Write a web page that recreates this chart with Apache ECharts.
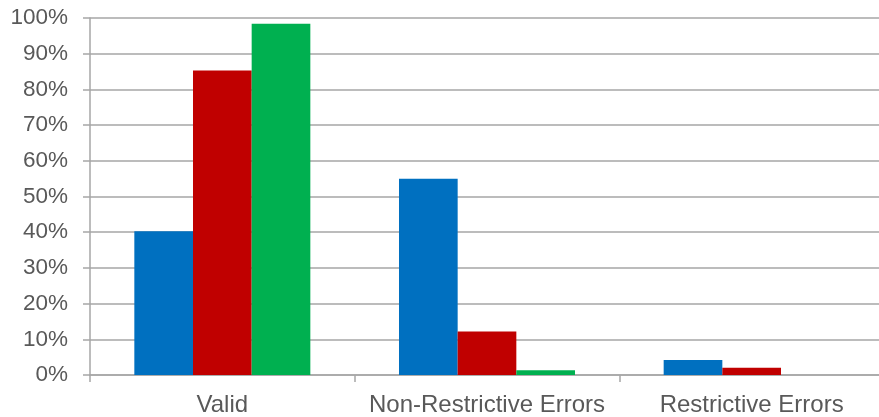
<!DOCTYPE html>
<html><head><meta charset="utf-8">
<script src="https://cdn.jsdelivr.net/npm/echarts@6/dist/echarts.min.js"></script>
<style>html,body{margin:0;padding:0;background:#fff}#c{width:879px;height:417px}</style>
</head><body><div id="c"></div>
<script>
const categories = ['Valid', 'Non-Restrictive Errors', 'Restrictive Errors'];
const seriesBlue = [40.3, 55.0, 4.2];
const seriesRed = [85.3, 12.2, 2.0];
const seriesGreen = [98.4, 1.3, 0];
const yTicks = [0, 10, 20, 30, 40, 50, 60, 70, 80, 90, 100];

const chart = echarts.init(document.getElementById('c'), null, {renderer: 'canvas'});
const txt = '#595959';
const lineCol = '#A6A6A6';
function bar(name, data, color) {
  return {name, type: 'bar', data, barGap: '0%', barCategoryGap: '33.5%',
    itemStyle: {color}, animation: false};
}
chart.setOption({
  animation: false,
  grid: {left: 90, width: 794, top: 18, height: 357, containLabel: false, outerBoundsMode: 'none'},
  xAxis: {
    type: 'category', data: categories,
    axisLine: {lineStyle: {color: lineCol, width: 1.5}},
    axisTick: {show: true, length: 7, inside: false, alignWithLabel: false, lineStyle: {color: lineCol, width: 1.5}},
    axisLabel: {color: txt, fontFamily: 'Liberation Sans', fontSize: 24, margin: 18,
      interval: 0, hideOverlap: false}
  },
  yAxis: {
    type: 'value', min: yTicks[0], max: yTicks[yTicks.length - 1], interval: 10,
    axisLine: {show: true, lineStyle: {color: lineCol, width: 1.5}},
    axisTick: {show: true, length: 7, lineStyle: {color: lineCol, width: 1.5}},
    splitLine: {show: true, lineStyle: {color: lineCol, width: 1.5}},
    axisLabel: {color: txt, fontFamily: 'Liberation Sans', fontSize: 22.5, margin: 22,
      formatter: v => v + '%'}
  },
  series: [bar('A', seriesBlue, '#0070C0'), bar('B', seriesRed, '#C00000'), bar('C', seriesGreen, '#00B050')]
});
</script></body></html>
